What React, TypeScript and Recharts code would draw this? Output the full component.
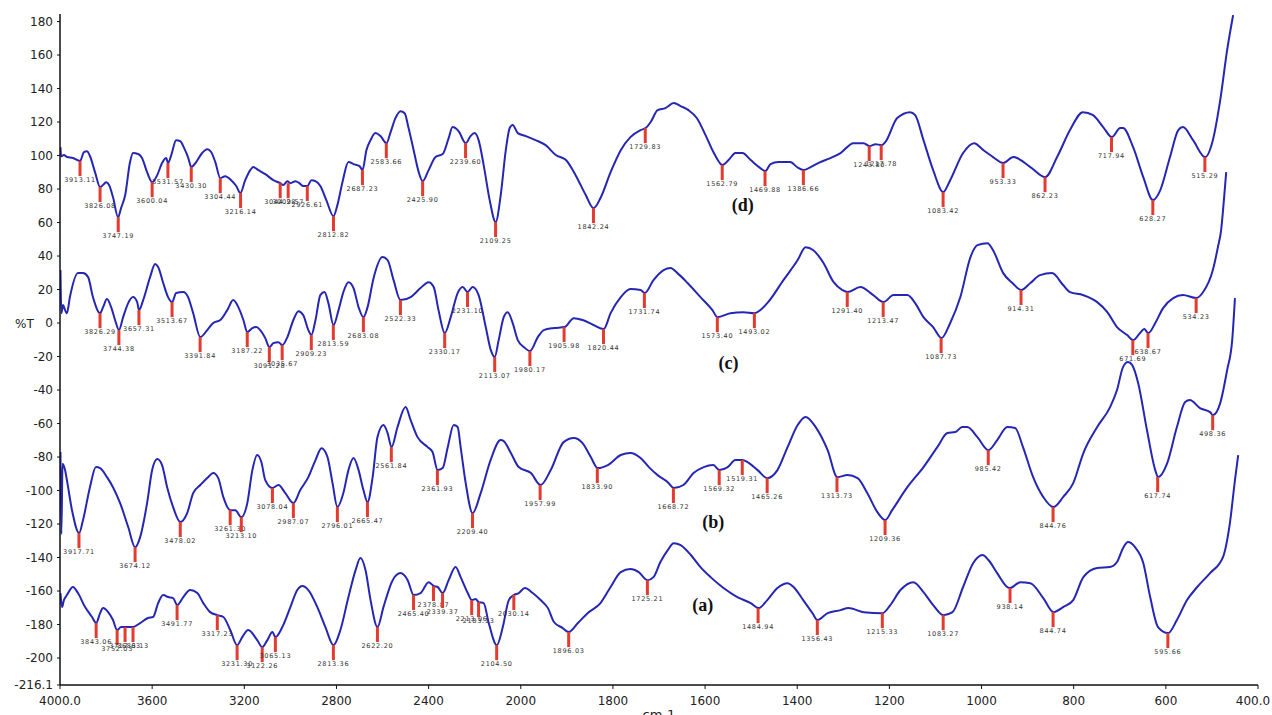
import { ComposedChart, Line, Scatter, XAxis, YAxis } from "recharts";

// IR spectra, [wavenumber cm-1, %T] (traces are offset vertically)
const specD: [number, number][] = [
  [3998, 105.0], [3995, 99.5], [3983, 100.3], [3970, 99.1], [3944, 98.5], [3913, 96.7], [3896, 102.1], [3883, 102.6],
  [3870, 99.7], [3848, 90.1], [3826, 81.2], [3809, 83.0], [3800, 84.1], [3787, 82.4], [3770, 75.2], [3748, 63.2],
  [3735, 68.6], [3717, 76.4], [3696, 96.1], [3683, 101.5], [3661, 100.9], [3644, 98.5], [3622, 90.1], [3600, 84.1],
  [3578, 88.3], [3557, 95.5], [3539, 98.5], [3531, 95.5], [3517, 100.3], [3496, 109.2], [3478, 108.6], [3461, 104.4],
  [3443, 98.5], [3430, 93.1], [3409, 96.1], [3383, 101.5], [3361, 103.8], [3344, 102.1], [3326, 96.1], [3304, 86.5],
  [3283, 87.7], [3257, 85.3], [3235, 81.8], [3217, 77.6], [3196, 85.3], [3174, 91.3], [3161, 93.1], [3139, 91.3],
  [3109, 88.9], [3074, 85.3], [3044, 83.5], [3031, 82.4], [3013, 84.7], [3000, 83.5], [2978, 84.7], [2961, 83.5],
  [2944, 81.8], [2926, 81.8], [2909, 85.3], [2891, 84.7], [2870, 81.8], [2844, 73.4], [2813, 63.8], [2796, 70.4],
  [2774, 84.1], [2748, 96.1], [2726, 94.9], [2700, 93.7], [2687, 91.3], [2670, 103.2], [2652, 109.2], [2631, 113.4],
  [2609, 111.6], [2583, 107.4], [2565, 114.0], [2544, 122.3], [2522, 126.5], [2504, 125.3], [2487, 116.4], [2465, 103.2],
  [2443, 90.1], [2426, 84.7], [2400, 91.3], [2370, 99.1], [2339, 100.9], [2313, 110.4], [2296, 117.0], [2270, 114.6],
  [2239, 107.4], [2218, 111.6], [2200, 113.4], [2183, 109.2], [2161, 94.3], [2135, 73.4], [2109, 60.3], [2087, 76.4],
  [2065, 103.2], [2048, 116.4], [2035, 118.2], [2013, 113.4], [1989, 111.6], [1968, 109.2], [1946, 106.2], [1924, 100.3],
  [1902, 97.3], [1881, 88.3], [1859, 76.4], [1842, 68.6], [1827, 74.6], [1805, 90.1], [1783, 103.2], [1762, 111.0],
  [1740, 115.2], [1729, 116.4], [1718, 120.0], [1703, 127.1], [1686, 128.3], [1668, 131.3], [1653, 129.5], [1636, 127.1],
  [1618, 122.4], [1599, 112.2], [1582, 102.1], [1562, 94.3], [1549, 97.3], [1534, 101.5], [1519, 101.5], [1501, 97.3],
  [1480, 92.5], [1469, 90.7], [1458, 94.9], [1441, 96.1], [1415, 96.1], [1400, 93.0], [1386, 91.3], [1371, 93.1],
  [1350, 96.1], [1328, 98.5], [1306, 101.5], [1278, 107.4], [1256, 107.4], [1243, 105.6], [1230, 106.8], [1217, 106.2],
  [1209, 108.0], [1183, 122.4], [1155, 125.9], [1144, 124.1], [1126, 109.2], [1105, 91.3], [1083, 78.2], [1068, 85.3],
  [1040, 101.5], [1016, 107.4], [996, 103.2], [975, 99.1], [953, 95.5], [931, 99.1], [894, 93.1], [862, 87.1],
  [836, 99.1], [808, 115.2], [780, 125.9], [758, 124.1], [736, 117.0], [717, 111.0], [699, 116.4], [693, 116.4],
  [671, 105.0], [649, 87.1], [628, 73.4], [612, 79.4], [591, 99.1], [573, 115.2], [563, 117.0], [541, 109.2],
  [515, 99.1], [498, 109.2], [482, 133.1], [467, 162.9], [454, 183.8],
];

const specC: [number, number][] = [
  [3998, 31.6], [3994, 5.9], [3987, 10.7], [3978, 7.7], [3970, 5.9], [3957, 15.5], [3922, 29.8], [3900, 29.8],
  [3878, 27.4], [3857, 15.5], [3826, 5.9], [3813, 9.5], [3796, 14.3], [3778, 9.5], [3761, 1.8], [3744, -4.2],
  [3726, 3.5], [3704, 11.9], [3683, 15.5], [3665, 12.5], [3657, 7.7], [3639, 13.7], [3609, 27.4], [3587, 35.2],
  [3574, 33.4], [3552, 23.9], [3531, 15.5], [3513, 12.5], [3496, 17.9], [3465, 18.5], [3444, 15.5], [3422, 5.9],
  [3391, -8.4], [3361, -4.2], [3335, 0.0], [3304, 1.8], [3274, 7.7], [3248, 13.7], [3226, 9.5], [3204, 1.8],
  [3187, -5.4], [3165, -3.0], [3148, -2.4], [3131, -4.2], [3109, -9.0], [3091, -14.4], [3074, -12.0], [3052, -11.4],
  [3035, -13.2], [3013, -8.4], [2987, 1.8], [2965, 7.1], [2944, 4.7], [2922, -4.2], [2909, -7.2], [2891, 1.8],
  [2870, 16.7], [2852, 18.5], [2835, 11.9], [2813, -1.2], [2791, 7.7], [2770, 18.5], [2748, 24.4], [2726, 20.9],
  [2704, 9.5], [2683, 3.5], [2665, 9.5], [2639, 26.8], [2600, 39.4], [2578, 37.6], [2552, 25.6], [2522, 13.7],
  [2478, 15.5], [2435, 20.9], [2400, 24.4], [2378, 21.5], [2357, 7.7], [2330, -6.0], [2304, 3.5], [2274, 17.9],
  [2252, 21.5], [2231, 18.5], [2209, 21.5], [2183, 16.7], [2152, -2.4], [2130, -16.2], [2113, -20.3], [2096, -10.2],
  [2074, 3.5], [2057, 6.5], [2035, 0.0], [2013, -10.2], [1993, -14.4], [1980, -16.7], [1963, -8.4], [1950, -4.2],
  [1928, -3.0], [1905, -2.4], [1885, 2.9], [1866, 1.8], [1842, -1.2], [1820, -3.6], [1805, 5.9], [1783, 15.5],
  [1762, 20.3], [1740, 19.7], [1731, 17.9], [1712, 25.6], [1690, 31.6], [1675, 32.8], [1660, 29.8], [1638, 23.9],
  [1610, 15.5], [1584, 7.7], [1573, 3.5], [1545, 5.9], [1517, 6.5], [1493, 5.9], [1465, 11.9], [1430, 25.6],
  [1399, 37.6], [1382, 45.3], [1365, 43.5], [1343, 35.8], [1321, 24.4], [1302, 19.7], [1291, 18.5], [1263, 21.5],
  [1235, 16.7], [1213, 12.5], [1191, 16.7], [1161, 16.7], [1144, 11.9], [1126, 3.5], [1105, -2.4], [1087, -9.0],
  [1068, 0.0], [1046, 15.5], [1024, 39.4], [1009, 46.5], [987, 47.7], [975, 43.5], [953, 29.8], [933, 23.9],
  [914, 19.7], [894, 23.9], [873, 28.6], [847, 29.8], [823, 22.7], [808, 18.5], [780, 16.7], [749, 12.5],
  [727, 6.5], [706, -2.4], [684, -7.2], [671, -10.2], [656, -6.0], [647, -3.6], [638, -6.0], [623, 0.0],
  [606, 8.9], [584, 14.9], [563, 16.7], [534, 14.9], [519, 18.5], [498, 31.6], [487, 45.3], [480, 55.5],
  [474, 73.4], [469, 90.1],
];

const specB: [number, number][] = [
  [3998, -77.0], [3994, -126.0], [3989, -84.0], [3978, -87.8], [3970, -93.8], [3948, -111.7], [3917, -125.4], [3900, -117.6],
  [3870, -98.0], [3844, -86.0], [3826, -86.6], [3796, -92.0], [3770, -98.0], [3739, -107.5], [3704, -121.8], [3674, -133.8],
  [3652, -127.8], [3622, -107.5], [3600, -87.8], [3578, -81.2], [3557, -84.8], [3535, -98.0], [3509, -109.9], [3478, -118.8],
  [3448, -113.5], [3422, -101.5], [3391, -96.7], [3357, -92.0], [3335, -89.6], [3313, -92.6], [3291, -103.9], [3261, -111.7],
  [3239, -111.7], [3213, -115.9], [3187, -107.5], [3165, -87.8], [3144, -78.8], [3126, -83.0], [3109, -93.8], [3078, -98.5],
  [3052, -96.7], [3022, -101.5], [2987, -107.5], [2957, -99.7], [2922, -92.0], [2891, -81.8], [2865, -74.7], [2839, -80.0],
  [2817, -95.6], [2796, -109.9], [2770, -101.5], [2748, -87.8], [2726, -80.6], [2704, -87.8], [2683, -99.7], [2665, -106.9],
  [2643, -92.0], [2622, -68.1], [2596, -60.9], [2578, -65.7], [2561, -74.1], [2535, -62.1], [2500, -50.2], [2478, -58.0],
  [2448, -68.1], [2404, -74.1], [2383, -77.0], [2361, -87.8], [2339, -86.6], [2317, -74.1], [2291, -60.9], [2274, -62.1],
  [2261, -74.1], [2239, -95.6], [2209, -113.5], [2174, -101.5], [2131, -81.8], [2087, -69.9], [2074, -70.5], [2043, -77.6],
  [2009, -86.0], [1978, -89.6], [1957, -96.7], [1935, -87.8], [1907, -71.1], [1885, -68.7], [1866, -71.7], [1848, -80.0],
  [1833, -86.6], [1811, -84.8], [1783, -78.8], [1762, -77.6], [1740, -80.6], [1722, -86.0], [1703, -90.8], [1681, -95.0],
  [1668, -98.5], [1647, -96.7], [1625, -89.6], [1603, -86.0], [1582, -84.8], [1569, -87.8], [1551, -86.0], [1534, -81.8],
  [1519, -81.8], [1508, -83.0], [1486, -87.8], [1465, -92.6], [1443, -87.8], [1421, -74.1], [1399, -60.9], [1382, -56.1],
  [1360, -62.1], [1334, -75.9], [1313, -92.0], [1291, -90.8], [1269, -92.6], [1248, -101.5], [1226, -112.9], [1209, -117.6],
  [1194, -111.7], [1161, -98.0], [1126, -86.0], [1096, -74.1], [1074, -65.7], [1057, -65.1], [1042, -62.1], [1031, -62.1],
  [1009, -68.1], [985, -75.9], [966, -69.9], [944, -62.1], [927, -62.7], [910, -74.1], [888, -92.0], [866, -103.9],
  [844, -109.9], [823, -103.9], [801, -95.6], [779, -77.6], [749, -62.1], [721, -50.2], [706, -40.0], [693, -26.3],
  [682, -23.3], [673, -25.1], [660, -35.9], [641, -63.9], [623, -87.8], [617, -92.0], [597, -83.6], [576, -62.1],
  [558, -47.2], [548, -46.0], [526, -50.8], [504, -53.2], [498, -55.0], [482, -47.8], [467, -28.1], [456, -10.2],
  [450, 14.9],
];

const specA: [number, number][] = [
  [3998, -161.2], [3991, -169.6], [3983, -165.4], [3970, -162.4], [3944, -157.6], [3922, -161.2], [3891, -169.6], [3861, -175.5],
  [3843, -179.1], [3826, -173.2], [3813, -170.2], [3791, -172.6], [3770, -177.3], [3752, -183.3], [3735, -181.5], [3717, -181.5],
  [3696, -181.5], [3683, -181.5], [3652, -179.1], [3618, -176.1], [3596, -175.5], [3574, -167.2], [3552, -162.4], [3531, -163.6],
  [3509, -164.2], [3491, -168.4], [3465, -163.6], [3435, -159.4], [3404, -161.2], [3378, -167.2], [3348, -172.6], [3317, -174.4],
  [3291, -175.5], [3261, -183.3], [3231, -192.3], [3209, -187.5], [3183, -183.3], [3144, -189.3], [3122, -193.5], [3100, -189.3],
  [3078, -184.5], [3065, -187.5], [3035, -181.5], [3000, -169.6], [2970, -159.4], [2948, -157.0], [2922, -159.4], [2883, -169.6],
  [2848, -181.5], [2813, -192.3], [2783, -183.3], [2748, -163.6], [2717, -147.5], [2696, -140.3], [2674, -147.5], [2652, -165.4],
  [2622, -181.5], [2596, -169.6], [2556, -153.5], [2522, -149.3], [2491, -153.5], [2465, -162.4], [2435, -161.2], [2400, -154.7],
  [2378, -157.0], [2361, -157.6], [2339, -161.2], [2313, -153.5], [2283, -145.7], [2261, -151.7], [2230, -161.2], [2213, -165.4],
  [2196, -164.8], [2183, -166.6], [2161, -167.2], [2139, -179.1], [2104, -192.3], [2078, -181.5], [2052, -165.4], [2030, -162.4],
  [2009, -161.2], [1991, -158.2], [1974, -161.2], [1957, -165.4], [1941, -170.2], [1928, -178.5], [1909, -182.1], [1896, -184.5],
  [1876, -179.1], [1855, -173.2], [1827, -167.2], [1805, -157.6], [1783, -148.7], [1762, -146.9], [1744, -148.7], [1725, -153.5],
  [1712, -151.7], [1697, -142.7], [1681, -135.6], [1668, -131.4], [1653, -132.6], [1631, -138.5], [1610, -145.7], [1588, -151.7],
  [1560, -158.2], [1530, -163.6], [1501, -167.2], [1484, -170.2], [1465, -165.4], [1443, -158.2], [1421, -155.3], [1408, -157.6],
  [1387, -165.4], [1367, -173.2], [1356, -177.3], [1334, -173.2], [1306, -171.4], [1289, -170.2], [1256, -172.6], [1215, -173.2],
  [1198, -168.4], [1176, -159.4], [1148, -154.7], [1126, -160.6], [1105, -168.4], [1083, -174.4], [1063, -172.6], [1040, -157.6],
  [1018, -143.3], [998, -138.5], [985, -141.5], [966, -149.3], [944, -157.6], [938, -158.2], [916, -154.7], [894, -155.3],
  [866, -164.2], [844, -172.6], [823, -169.6], [801, -165.4], [779, -151.7], [749, -146.3], [721, -145.7], [706, -142.7],
  [693, -134.4], [682, -130.8], [667, -133.8], [649, -143.3], [634, -163.6], [617, -181.5], [595, -185.1], [576, -177.3],
  [554, -165.4], [532, -157.6], [504, -149.3], [476, -139.7], [461, -119.4], [450, -93.8], [443, -78.8],
];

// picked bands, [wavenumber, %T at the band]
const peaksD: [number, number][] = [
  [3913.11, 96.7], [3826.08, 81.2], [3747.19, 63.2], [3600.04, 84.1], [3531.57, 95.5], [3430.3, 93.1], [3304.44, 86.5],
  [3216.14, 77.6], [3044.28, 83.5], [3009.57, 83.5], [2926.61, 81.8], [2812.82, 63.8], [2687.23, 91.3], [2583.66, 107.4],
  [2425.9, 84.7], [2239.6, 107.4], [2109.25, 60.3], [1842.24, 68.6], [1729.83, 116.4], [1562.79, 94.3], [1469.88, 90.7],
  [1386.66, 91.3], [1243.8, 105.6], [1217.78, 106.2], [1083.42, 78.2], [953.33, 95.5], [862.23, 87.1], [717.94, 111.0],
  [628.27, 73.4], [515.29, 99.1],
];

const peaksC: [number, number][] = [
  [3826.29, 5.9], [3744.38, -4.2], [3657.31, 7.7], [3513.67, 12.5], [3391.84, -8.4], [3187.22, -5.4], [3091.28, -14.4],
  [3035.67, -13.2], [2909.23, -7.2], [2813.59, -1.2], [2683.08, 3.5], [2522.33, 13.7], [2330.17, -6.0], [2231.1, 18.5],
  [2113.07, -20.3], [1980.17, -16.7], [1905.98, -2.4], [1820.44, -3.6], [1731.74, 17.9], [1573.4, 3.5], [1493.02, 5.9],
  [1291.4, 18.5], [1213.47, 12.5], [1087.73, -9.0], [914.31, 19.7], [671.69, -10.2], [638.67, -6.0], [534.23, 14.9],
];

const peaksB: [number, number][] = [
  [3917.71, -125.4], [3674.12, -133.8], [3478.02, -118.8], [3261.3, -111.7], [3213.1, -115.9], [3078.04, -98.5],
  [2987.07, -107.5], [2796.01, -109.9], [2665.47, -106.9], [2561.84, -74.1], [2361.93, -87.8], [2209.4, -113.5],
  [1957.99, -96.7], [1833.9, -86.6], [1668.72, -98.5], [1569.32, -87.8], [1519.31, -81.8], [1465.26, -92.6],
  [1313.73, -92.0], [1209.36, -117.6], [985.42, -75.9], [844.76, -109.9], [617.74, -92.0], [498.36, -55.0],
];

const peaksA: [number, number][] = [
  [3843.06, -179.1], [3752.03, -183.3], [3717.63, -181.5], [3683.13, -181.5], [3491.77, -168.4], [3317.23, -174.4],
  [3231.3, -192.3], [3122.26, -193.5], [3065.13, -187.5], [2813.36, -192.3], [2622.2, -181.5], [2465.4, -162.4],
  [2378.87, -157.0], [2339.37, -161.2], [2213.06, -165.4], [2183.13, -166.6], [2104.5, -192.3], [2030.14, -162.4],
  [1896.03, -184.5], [1725.21, -153.5], [1484.94, -170.2], [1356.43, -177.3], [1215.33, -173.2], [1083.27, -174.4],
  [938.14, -158.2], [844.74, -172.6], [595.66, -185.1],
];

const traceTags: [string, number, number][] = [
  ["(d)", 1518, 70.4],
  ["(c)", 1549, -23.9],
  ["(b)", 1582, -118.8],
  ["(a)", 1605, -168.4],
];

const xTickCm = [4000, 3600, 3200, 2800, 2400, 2000, 1800, 1600, 1400, 1200, 1000, 800, 600, 400];
const yTicks = [180, 160, 140, 120, 100, 80, 60, 40, 20, 0, -20, -40, -60, -80, -100, -120, -140, -160, -180, -200, -216.1];

const Y_MIN = -216.1;
const Y_MAX = 184.5;

// instrument axis: 4000-2000 cm-1 at one scale, below 2000 expanded x2
const toPos = (cm: number) => (cm >= 2000 ? 4000 - cm : 2000 + (2000 - cm) * 2);
const fromPos = (p: number) => (p <= 2000 ? 4000 - p : 2000 - (p - 2000) / 2);

const asRows = (pts: [number, number][]) => pts.map(([cm, t]) => ({ pos: toPos(cm), cm, t }));

const FONT = "'DejaVu Sans', Verdana, sans-serif";
const LINE = "#2626b4";

const PeakMark = (props: any) => {
  const { cx, cy, payload } = props;
  if (cx == null || cy == null) return null;
  return (
    <g>
      <rect x={cx - 1.5} y={cy} width={3} height={15} fill="#e23b30" />
      <text x={cx} y={cy + 21} textAnchor="middle" fontSize={6.5} letterSpacing={0.7} fontFamily={FONT} fill="#333">
        {payload.cm.toFixed(2)}
      </text>
    </g>
  );
};

const TagText = (props: any) => {
  const { cx, cy, payload } = props;
  if (cx == null || cy == null) return null;
  return (
    <text x={cx} y={cy + 6} textAnchor="middle" fontSize={18} fontWeight="bold" fontFamily="'Liberation Serif', serif" fill="#111">
      {payload.name}
    </text>
  );
};

// bottom tick labels; the end values carry one decimal, the last one is nudged inside the page
const CmTick = (props: any) => {
  const { x, y, payload } = props;
  const cm = Math.round(fromPos(payload.value));
  const txt = cm === 4000 || cm === 400 ? cm.toFixed(1) : String(cm);
  return (
    <text x={cm === 400 ? x - 5 : x} y={y + 11} textAnchor="middle" fontSize={12} fill="#222" fontFamily={FONT}>
      {txt}
    </text>
  );
};

export default function App() {
  const series = [specD, specC, specB, specA];
  const peaks = [peaksD, peaksC, peaksB, peaksA];
  const tags = traceTags.map(([name, cm, t]) => ({ name, pos: toPos(cm), t }));

  return (
    <div style={{ position: "absolute", left: 0, top: 0, width: 1272, height: 715, background: "#fff" }}>
      <ComposedChart width={1272} height={715} margin={{ top: 14, right: 14, bottom: 0, left: 0 }}>
        <XAxis
          type="number"
          dataKey="pos"
          domain={[0, 5200]}
          allowDataOverflow
          ticks={xTickCm.map(toPos)}
          interval={0}
          height={30}
          tickSize={4}
          tickMargin={5}
          tick={<CmTick />}
          axisLine={{ stroke: "#111", strokeWidth: 1.5 }}
          tickLine={{ stroke: "#111" }}
          label={{ value: "cm-1", position: "insideBottom", offset: -4, fontSize: 13, fill: "#222", fontFamily: FONT }}
        />
        <YAxis
          type="number"
          domain={[Y_MIN, Y_MAX]}
          allowDataOverflow
          ticks={yTicks}
          interval={0}
          width={60}
          tickSize={3}
          tickMargin={4}
          tick={{ fontSize: 12, fill: "#222", fontFamily: FONT }}
          axisLine={{ stroke: "#111", strokeWidth: 1.5 }}
          tickLine={{ stroke: "#111" }}
          label={(p: any) => {
            const vb = p.viewBox || { x: 0, y: 14, height: 671 };
            const y0 = vb.y + (vb.height * Y_MAX) / (Y_MAX - Y_MIN);
            return (
              <text x={vb.x + 15} y={y0 + 5} fontSize={12} fill="#222" fontFamily={FONT}>
                %T
              </text>
            );
          }}
        />
        {peaks.map((pk, i) => (
          <Scatter key={`pk${i}`} data={asRows(pk)} dataKey="t" shape={PeakMark} isAnimationActive={false} />
        ))}
        {series.map((s, i) => (
          <Line
            key={`sp${i}`}
            data={asRows(s)}
            dataKey="t"
            type="monotone"
            stroke={LINE}
            strokeWidth={2}
            dot={false}
            activeDot={false}
            isAnimationActive={false}
          />
        ))}
        <Scatter data={tags} dataKey="t" shape={TagText} isAnimationActive={false} />
      </ComposedChart>
    </div>
  );
}
